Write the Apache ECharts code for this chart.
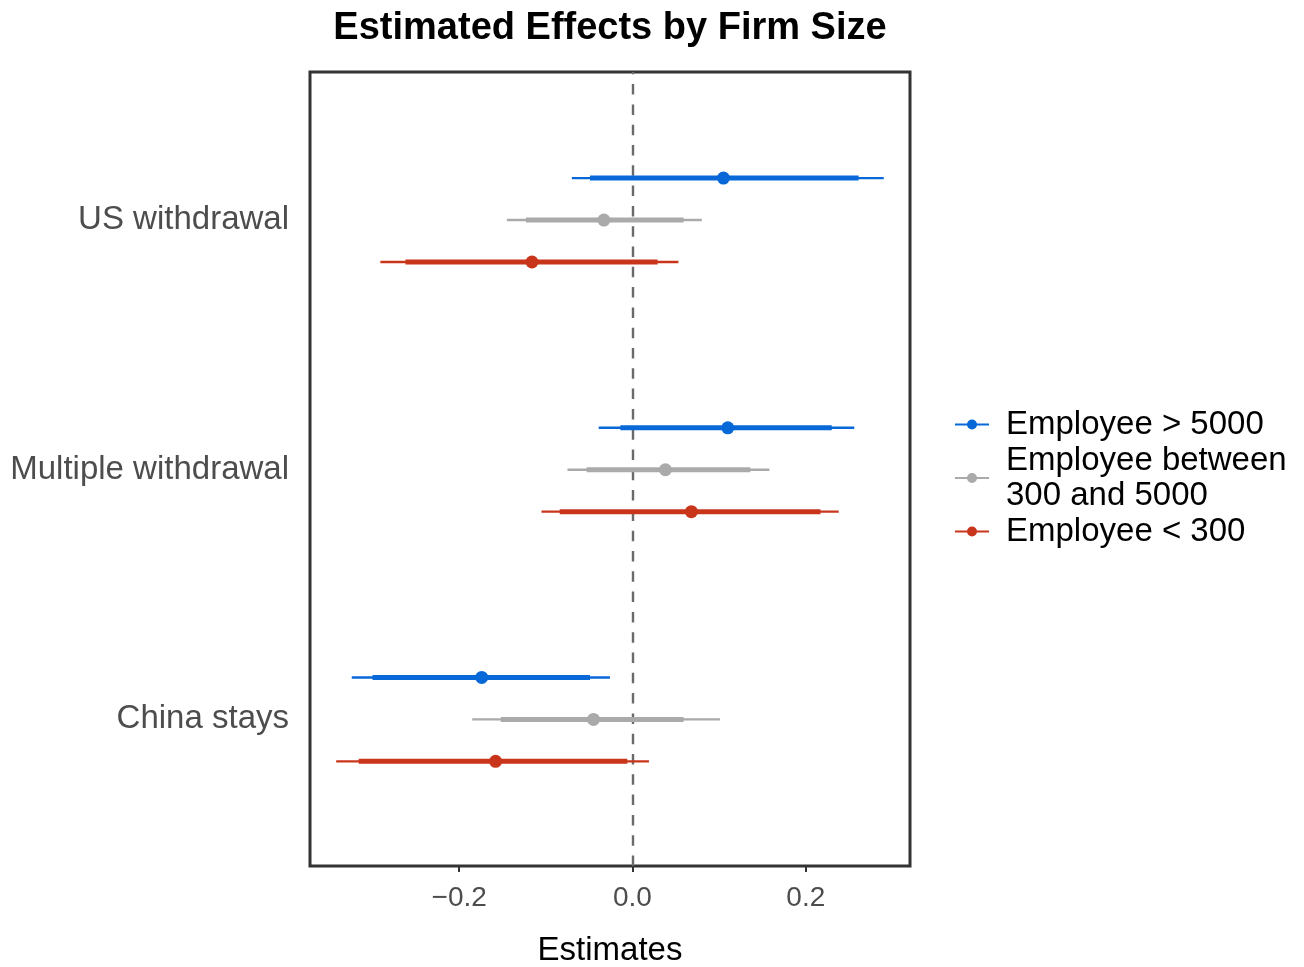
<!DOCTYPE html>
<html>
<head>
<meta charset="utf-8">
<title>Estimated Effects by Firm Size</title>
<script src="https://cdn.jsdelivr.net/npm/echarts@6/dist/echarts.min.js"></script>
<style>
  html, body { margin: 0; padding: 0; background: #ffffff; }
  #chart { width: 1304px; height: 967px; }
</style>
</head>
<body>
<div id="chart"></div>
<script>
// Outcomes, listed top to bottom, and their positions on the vertical axis
const outcomes = ['US withdrawal', 'Multiple withdrawal', 'China stays'];
const outcomePos = [3, 2, 1];

// Firm-size groups (legend order)
const groupNames = ['Employee > 5000', 'Employee between\n300 and 5000', 'Employee < 300'];

// Employee > 5000
const largeEstimate  = [0.105, 0.110, -0.174];
const largeInnerLow  = [-0.049, -0.014, -0.300];
const largeInnerHigh = [0.261, 0.230, -0.049];
const largeOuterLow  = [-0.070, -0.039, -0.324];
const largeOuterHigh = [0.290, 0.256, -0.026];

// Employee between 300 and 5000
const mediumEstimate  = [-0.033, 0.038, -0.045];
const mediumInnerLow  = [-0.123, -0.053, -0.152];
const mediumInnerHigh = [0.059, 0.136, 0.059];
const mediumOuterLow  = [-0.145, -0.075, -0.185];
const mediumOuterHigh = [0.080, 0.158, 0.101];

// Employee < 300
const smallEstimate  = [-0.116, 0.068, -0.158];
const smallInnerLow  = [-0.262, -0.084, -0.316];
const smallInnerHigh = [0.029, 0.217, -0.006];
const smallOuterLow  = [-0.291, -0.105, -0.342];
const smallOuterHigh = [0.053, 0.238, 0.019];

// x-axis tick values
const xTicks = [-0.2, 0, 0.2];

const groupColors = ['#0868d8', '#aaaaaa', '#c9351b'];
const dodge = [0.168, 0, -0.168];
const FONT = '"Liberation Sans", Arial, Helvetica, sans-serif';

const groupData = [
  [largeEstimate, largeInnerLow, largeInnerHigh, largeOuterLow, largeOuterHigh],
  [mediumEstimate, mediumInnerLow, mediumInnerHigh, mediumOuterLow, mediumOuterHigh],
  [smallEstimate, smallInnerLow, smallInnerHigh, smallOuterLow, smallOuterHigh]
];

function rows(g) {
  const [est, il, ih, ol, oh] = groupData[g];
  return outcomes.map((_, i) => [outcomePos[i] + dodge[g], ol[i], il[i], est[i], ih[i], oh[i]]);
}

// thin outer interval, thick inner interval, dot at the estimate
function renderInterval(params, api) {
  const y = api.value(0);
  const outerA = api.coord([api.value(1), y]);
  const innerA = api.coord([api.value(2), y]);
  const mid = api.coord([api.value(3), y]);
  const innerB = api.coord([api.value(4), y]);
  const outerB = api.coord([api.value(5), y]);
  const color = api.visual('color');
  return {
    type: 'group',
    children: [
      { type: 'line', shape: { x1: outerA[0], y1: outerA[1], x2: outerB[0], y2: outerB[1] },
        style: { stroke: color, lineWidth: 2.4, lineCap: 'butt' } },
      { type: 'line', shape: { x1: innerA[0], y1: innerA[1], x2: innerB[0], y2: innerB[1] },
        style: { stroke: color, lineWidth: 5, lineCap: 'butt' } },
      { type: 'circle', shape: { cx: mid[0], cy: mid[1], r: 6.5 },
        style: { fill: color } }
    ]
  };
}

// legend key: a short line with a dot in the middle
const keyIcon = 'path://M0,4 L34,4 L34,6 L0,6 Z M12,5 A5,5 0 1,1 22,5 A5,5 0 1,1 12,5 Z';

const series = groupNames.map((name, g) => ({
  type: 'custom',
  name: name,
  color: groupColors[g],
  itemStyle: { color: groupColors[g] },
  renderItem: renderInterval,
  encode: { x: [1, 2, 3, 4, 5], y: 0 },
  data: rows(g),
  z: 3
}));

// zero reference line
series[0].markLine = {
  silent: true,
  symbol: ['none', 'none'],
  label: { show: false },
  lineStyle: { type: [10.5, 9.8], color: '#6a6a6a', width: 2.4 },
  data: [{ xAxis: 0 }],
  z: 1
};

const chart = echarts.init(document.getElementById('chart'), null, { renderer: 'canvas' });
chart.setOption({
  animation: false,
  backgroundColor: '#ffffff',
  textStyle: { fontFamily: FONT },
  title: {
    text: 'Estimated Effects by Firm Size',
    left: 610,
    top: 7,
    padding: 0,
    textAlign: 'center',
    textStyle: { fontFamily: FONT, fontWeight: 'bold', fontSize: 38, lineHeight: 44, color: '#000000' }
  },
  legend: {
    orient: 'vertical',
    left: 955,
    top: 407,
    padding: 0,
    itemGap: 1,
    itemWidth: 34,
    itemHeight: 10,
    data: groupNames.map(n => ({ name: n, icon: keyIcon })),
    textStyle: { fontFamily: FONT, fontSize: 33, lineHeight: 35, color: '#000000', padding: [0, 0, 0, 12] }
  },
  grid: {
    left: 310, right: 394, top: 72, bottom: 101,
    outerBoundsMode: 'none',
    containLabel: false,
    show: true, borderColor: '#333333', borderWidth: 3, backgroundColor: 'transparent'
  },
  xAxis: {
    type: 'value',
    min: -0.3722,
    max: 0.3203,
    name: 'Estimates',
    nameLocation: 'middle',
    nameGap: 68,
    nameTextStyle: { fontFamily: FONT, fontSize: 33, color: '#000000' },
    axisLine: { show: false },
    splitLine: { show: false },
    axisTick: { show: true, length: 6, customValues: xTicks, lineStyle: { color: '#333333', width: 2 } },
    axisLabel: {
      customValues: xTicks,
      margin: 18,
      fontFamily: FONT, fontSize: 28, color: '#4d4d4d',
      formatter: v => (v < 0 ? '\u2212' : '') + Math.abs(v).toFixed(1)
    }
  },
  yAxis: {
    type: 'value',
    min: 0.4128,
    max: 3.593,
    axisLine: { show: false },
    splitLine: { show: false },
    axisTick: { show: true, length: 6, customValues: outcomePos, lineStyle: { color: '#333333', width: 2 } },
    axisLabel: {
      customValues: outcomePos,
      margin: 21,
      padding: [4, 0, 0, 0],
      fontFamily: FONT, fontSize: 33, color: '#4d4d4d',
      formatter: v => outcomes[outcomePos.indexOf(Math.round(v))] || ''
    }
  },
  series: series
});
</script>
</body>
</html>
